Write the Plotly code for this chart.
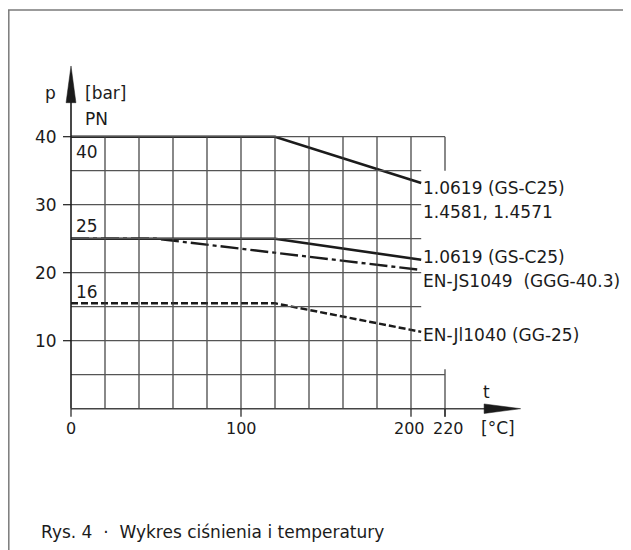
import plotly.graph_objects as go

# ---- data ----
t_pn40 = [0, 120, 206]
p_pn40 = [40, 40, 33.2]

t_pn25 = [0, 120, 206]
p_pn25 = [25, 25, 21.9]

t_js = [0, 50, 206]
p_js = [25, 25, 20.4]

t_jl = [0, 120, 206]
p_jl = [15.5, 15.5, 11.3]

x_ticks = [0, 100, 200, 220]
x_tick_labels = ["0", "100", "200", "220"]
x_label_nudge = [0, 0, -2, 3]
y_ticks = [10, 20, 30, 40]
y_tick_labels = ["10", "20", "30", "40"]

v_grid = [20, 40, 60, 80, 100, 120, 140, 160, 180, 200]
h_grid_short = [10, 15, 20, 25, 30, 35]
h_grid_long = [5, 40]

pn_labels = ["40", "25", "16"]
pn_label_p = [37.8, 26.8, 17.1]

series_labels = ["1.0619 (GS-C25)", "1.4581, 1.4571", "1.0619 (GS-C25)",
                 "EN-JS1049  (GGG-40.3)", "EN-Jl1040 (GG-25)"]
series_label_p = [32.5, 29.0, 22.35, 18.8, 10.85]

caption = "Rys. 4  ·  Wykres ciśnienia i temperatury"

FONT = "DejaVu Sans"
INK = "#1b1b1b"
GRID = "#3a3a3a"

# The page has an 8px body margin, so the figure starts at page (8, 8).
OFF = 8
W, H = 631 - OFF, 550 - OFF
px_per_t = 1.7
px_per_p = 6.8
x0_px, y0_px = 71 - OFF, 408.7 - OFF
xr = [-x0_px / px_per_t, (W - x0_px) / px_per_t]
yr = [(y0_px - H) / px_per_p, y0_px / px_per_p]

fig = go.Figure()

shapes = []
# vertical grid
for t in v_grid:
    shapes.append(dict(type="line", x0=t, x1=t, y0=0, y1=40,
                       line=dict(color=GRID, width=1.2)))
# 220 partial lines
shapes.append(dict(type="line", x0=220, x1=220, y0=-1.2, y1=5.8, line=dict(color=GRID, width=1.2)))
shapes.append(dict(type="line", x0=220, x1=220, y0=35, y1=40, line=dict(color=GRID, width=1.2)))
# horizontal grid
for p in h_grid_short:
    shapes.append(dict(type="line", x0=0, x1=206, y0=p, y1=p,
                       line=dict(color="#555555", width=1.2)))
for p in h_grid_long:
    shapes.append(dict(type="line", x0=0, x1=220, y0=p, y1=p,
                       line=dict(color="#555555", width=1.2)))
# axes
shapes.append(dict(type="line", x0=0, x1=0, y0=0, y1=45.5, line=dict(color=INK, width=1.6)))
shapes.append(dict(type="line", x0=0, x1=244, y0=0, y1=0, line=dict(color="#444444", width=1.6)))
# arrow heads
shapes.append(dict(type="path", path="M -2.9,45.0 L 0,50.4 L 2.9,45.0 Z",
                   fillcolor=INK, line=dict(color=INK, width=0.5)))
shapes.append(dict(type="path", path="M 243,0.7 L 264.5,0 L 243,-0.7 Z",
                   fillcolor=INK, line=dict(color=INK, width=0.5)))
# ticks
for p in y_ticks:
    shapes.append(dict(type="line", x0=-4.7, x1=0, y0=p, y1=p, line=dict(color=INK, width=1.2)))
for t in x_ticks:
    shapes.append(dict(type="line", x0=t, x1=t, y0=-1.2, y1=0, line=dict(color=INK, width=1.2)))
# frame
shapes.append(dict(type="line", xref="paper", yref="paper", x0=0, x1=1, y0=1 - 2 / H, y1=1 - 2 / H,
                   line=dict(color="#7a7a7a", width=1.5)))
shapes.append(dict(type="line", xref="paper", yref="paper", x0=0.8 / W, x1=0.8 / W, y0=0, y1=1 - 2 / H,
                   line=dict(color="#7a7a7a", width=1.5)))

# data lines
fig.add_trace(go.Scatter(x=t_pn40, y=p_pn40, mode="lines",
                         line=dict(color=INK, width=2.6), hoverinfo="skip"))
fig.add_trace(go.Scatter(x=t_pn25, y=p_pn25, mode="lines",
                         line=dict(color=INK, width=2.6), hoverinfo="skip"))
fig.add_trace(go.Scatter(x=t_js, y=p_js, mode="lines",
                         line=dict(color=INK, width=2.4, dash="18px,4px,4px,4px"), hoverinfo="skip"))
fig.add_trace(go.Scatter(x=t_jl, y=p_jl, mode="lines",
                         line=dict(color=INK, width=2.4, dash="7px,3px"), hoverinfo="skip"))

ann = []
fs = 17
for v, lab in zip(y_ticks, y_tick_labels):
    ann.append(dict(x=-7.0, y=v, text=lab, xanchor="right", yanchor="middle", showarrow=False,
                    font=dict(family=FONT, size=fs, color=INK)))
for v, lab, nd in zip(x_ticks, x_tick_labels, x_label_nudge):
    ann.append(dict(x=v, y=-2.85, text=lab, xanchor="center", yanchor="middle", showarrow=False,
                    xshift=nd, font=dict(family=FONT, size=16, color=INK)))
for lab, p in zip(pn_labels, pn_label_p):
    ann.append(dict(x=1.5, y=p, text=lab, xanchor="left", yanchor="middle", showarrow=False,
                    font=dict(family=FONT, size=fs, color=INK)))
for lab, p in zip(series_labels, series_label_p):
    ann.append(dict(x=206.0, y=p, text=lab, xanchor="left", yanchor="middle", showarrow=False,
                    font=dict(family=FONT, size=fs, color=INK)))
ann.append(dict(x=-11.8, y=46.4, text="p", xanchor="center", yanchor="middle", showarrow=False,
                font=dict(family=FONT, size=fs, color=INK)))
ann.append(dict(x=6.8, y=46.4, text="[bar]", xanchor="left", yanchor="middle", showarrow=False,
                font=dict(family=FONT, size=fs, color=INK)))
ann.append(dict(x=6.8, y=42.6, text="PN", xanchor="left", yanchor="middle", showarrow=False,
                font=dict(family=FONT, size=fs, color=INK)))
ann.append(dict(x=244.7, y=2.5, text="t", xanchor="center", yanchor="middle", showarrow=False,
                font=dict(family=FONT, size=fs, color=INK)))
ann.append(dict(x=251, y=-2.85, text="[°C]", xanchor="center", yanchor="middle", showarrow=False,
                font=dict(family=FONT, size=fs, color=INK)))
ann.append(dict(xref="paper", yref="paper", x=(39 - OFF) / W, y=1 - (531.7 - OFF) / H, text=caption,
                xanchor="left", yanchor="middle", showarrow=False,
                font=dict(family=FONT, size=17, color=INK)))

fig.update_layout(
    width=W, height=H,
    margin=dict(l=0, r=0, t=0, b=0),
    paper_bgcolor="white", plot_bgcolor="white",
    showlegend=False,
    xaxis=dict(range=xr, visible=False, fixedrange=True),
    yaxis=dict(range=yr, visible=False, fixedrange=True),
    shapes=shapes,
    annotations=ann,
)

fig.write_html("out.html")
